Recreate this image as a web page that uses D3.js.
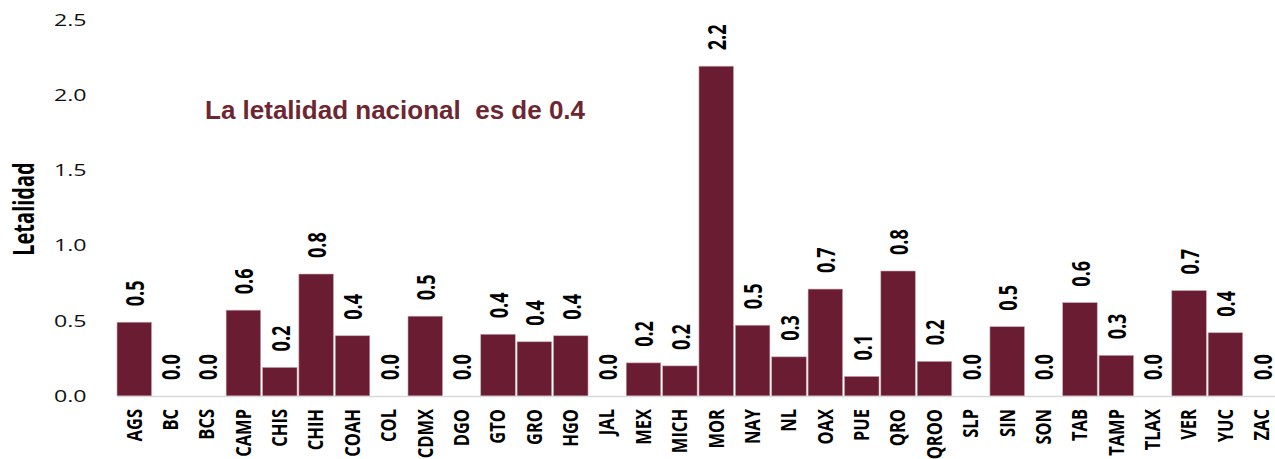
<!DOCTYPE html>
<html>
<head>
<meta charset="utf-8">
<script src="https://cdn.jsdelivr.net/npm/d3@7"></script>
<style>
  body { margin: 0; background: #fff; }
</style>
</head>
<body>
<svg></svg>
<script>

const estados = ['AGS', 'BC', 'BCS', 'CAMP', 'CHIS', 'CHIH', 'COAH', 'COL', 'CDMX', 'DGO',
    'GTO', 'GRO', 'HGO', 'JAL', 'MEX', 'MICH', 'MOR', 'NAY', 'NL', 'OAX',
    'PUE', 'QRO', 'QROO', 'SLP', 'SIN', 'SON', 'TAB', 'TAMP', 'TLAX', 'VER', 'YUC', 'ZAC'];

const letalidad = [0.49, 0, 0, 0.57, 0.19, 0.81, 0.40, 0, 0.53, 0,
    0.41, 0.36, 0.40, 0, 0.22, 0.20, 2.19, 0.47, 0.26, 0.71,
    0.13, 0.83, 0.23, 0, 0.46, 0, 0.62, 0.27, 0, 0.70, 0.42, 0];

const yTicks = [0, 0.5, 1.0, 1.5, 2.0, 2.5];

const titulo = 'La letalidad nacional\u00a0 es de 0.4';

init();

function init() {
    const w = 1275, h = 459;
    const sx = 1.4; // el original viene estirado a lo ancho

    const svg = d3.select('svg').attr('width', w).attr('height', h);

    const x = d3.scaleBand().domain(estados).range([115.2, 1280.9]).padding(0.05);
    const y = d3.scaleLinear().domain([0, 2.5]).range([396, 19.5]);
    const fmt = d3.format('.1f');

    // etiquetas eje y
    svg.append('g').selectAll('text')
        .data(yTicks)
        .join('text')
        .attr('transform', d => 'translate(86.5,' + y(d) + ') scale(1.45,1)')
        .attr('text-anchor', 'end')
        .attr('dominant-baseline', 'central')
        .style('font-family', '"Open Sans", sans-serif')
        .style('font-size', '16px')
        .attr('fill', '#111')
        .text(d => fmt(d));

    svg.append('text')
        .attr('transform', 'translate(23,209) scale(' + sx + ',1) rotate(-90)')
        .attr('text-anchor', 'middle')
        .attr('dominant-baseline', 'central')
        .style('font-family', '"Open Sans", sans-serif')
        .style('font-weight', 'bold')
        .style('font-size', '20px')
        .attr('fill', '#000')
        .text('Letalidad');

    // barras
    svg.append('g').selectAll('rect')
        .data(estados)
        .join('rect')
        .attr('x', d => x(d))
        .attr('width', x.bandwidth())
        .attr('y', (d, i) => y(letalidad[i]))
        .attr('height', (d, i) => y(0) - y(letalidad[i]))
        .attr('fill', '#691C32')
        .attr('stroke', '#c9a9b1')
        .attr('stroke-width', 0.6);

    svg.append('line')
        .attr('x1', 117).attr('x2', w)
        .attr('y1', y(0) + 0.5).attr('y2', y(0) + 0.5)
        .attr('stroke', '#d9d9d9')
        .attr('stroke-width', 1.5);

    // valores sobre barras
    svg.append('g').selectAll('text')
        .data(estados)
        .join('text')
        .attr('transform', (d, i) => 'translate(' + (x(d) + x.bandwidth() / 2) + ',' + (y(letalidad[i]) - 16) + ') scale(' + sx + ',1) rotate(-90)')
        .attr('text-anchor', 'start')
        .attr('dominant-baseline', 'central')
        .style('font-family', '"Open Sans", sans-serif')
        .style('font-weight', 'bold')
        .style('font-size', '18px')
        .attr('fill', '#000')
        .text((d, i) => fmt(letalidad[i]));

    // estados
    svg.append('g').selectAll('text')
        .data(estados)
        .join('text')
        .attr('transform', d => 'translate(' + (x(d) + x.bandwidth() / 2 - 0.5) + ',409) scale(1.3,1) rotate(-90)')
        .attr('text-anchor', 'end')
        .attr('dominant-baseline', 'central')
        .style('font-family', '"Open Sans", sans-serif')
        .style('font-weight', 'bold')
        .style('font-size', '16.5px')
        .attr('fill', '#000')
        .text(d => d);

    svg.append('text')
        .attr('x', 205)
        .attr('y', 118.5)
        .style('font-family', '"Liberation Sans", Arial, sans-serif')
        .style('font-weight', 'bold')
        .style('font-size', '26px')
        .attr('fill', '#6d2732')
        .text(titulo);
}

</script>
</body>
</html>
